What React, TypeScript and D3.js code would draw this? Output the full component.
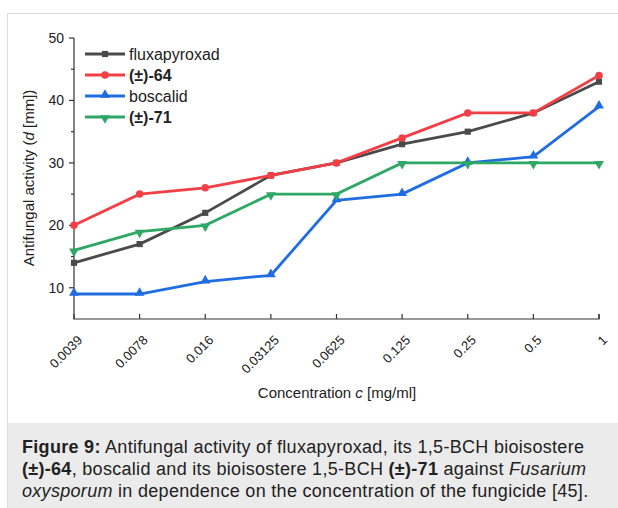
import * as d3 from "d3";

const concentrations = ["0.0039", "0.0078", "0.016", "0.03125", "0.0625", "0.125", "0.25", "0.5", "1"];
const fluxapyroxad = [14, 17, 22, 28, 30, 33, 35, 38, 43];
const cmp64 = [20, 25, 26, 28, 30, 34, 38, 38, 44];
const boscalid = [9, 9, 11, 12, 24, 25, 30, 31, 39];
const cmp71 = [16, 19, 20, 25, 25, 30, 30, 30, 30];
const yTicks = [10, 20, 30, 40, 50];
const yMinor = [15, 25, 35, 45];

const series = [
  { name: "fluxapyroxad", bold: false, values: fluxapyroxad, color: "#4a4a4a", symbol: d3.symbolSquare },
  { name: "(±)-64", bold: true, values: cmp64, color: "#f23f45", symbol: d3.symbolCircle },
  { name: "boscalid", bold: false, values: boscalid, color: "#1f6de0", symbol: d3.symbolTriangle },
  { name: "(±)-71", bold: true, values: cmp71, color: "#2fa865", symbol: "down" },
];

const W = 618;
const H = 508;
const left = 74;
const right = 599;
const top = 38;
const bottom = 319;

export default function App() {
  const x = d3.scalePoint().domain(concentrations).range([left, right]);
  const y = d3.scaleLinear().domain([5, 50]).range([bottom, top]);
  const line = d3.line<number>().x((_, i) => x(concentrations[i])!).y(d => y(d));
  const font = "Liberation Sans, Arial, Helvetica, sans-serif";

  const marker = (sym: any, cx: number, cy: number, color: string, key: string) => {
    if (sym === "down") {
      const p = d3.symbol().type(d3.symbolTriangle).size(42)();
      return <path key={key} d={p!} transform={`translate(${cx},${cy + 1}) rotate(180)`} fill={color} />;
    }
    const size = sym === d3.symbolTriangle ? 42 : sym === d3.symbolSquare ? 38 : 44;
    const dy = sym === d3.symbolTriangle ? -1 : 0;
    return <path key={key} d={d3.symbol().type(sym).size(size)()!} transform={`translate(${cx},${cy + dy})`} fill={color} />;
  };

  return (
    <svg width={W} height={H} style={{ position: "absolute", left: 0, top: 0, display: "block" }} fontFamily={font}>
      <rect x={0} y={0} width={W} height={H} fill="#fff" />
      <path d={`M7.5,${H}V13.5H${W}`} fill="none" stroke="#dcdcdc" />
      <rect x={8} y={423} width={W - 8} height={H - 423} fill="#ebebeb" />

      {/* axes */}
      <g stroke="#333" strokeWidth={1.2} fill="none">
        <path d={`M${left},${top}V${bottom}H${right}V${bottom - 5}`} />
        {yTicks.map(t => (
          <path key={t} d={`M${left - 5},${y(t)}H${left}`} />
        ))}
        {yMinor.map(t => (
          <path key={t} d={`M${left - 3},${y(t)}H${left}`} />
        ))}
        {concentrations.map(c => (
          <path key={c} d={`M${x(c)},${bottom}V${bottom - 5}`} />
        ))}
      </g>
      {yTicks.map(t => (
        <text key={t} x={left - 10} y={y(t)} dy="0.35em" textAnchor="end" fontSize={14} fill="#222">
          {t}
        </text>
      ))}
      {concentrations.map(c => (
        <text
          key={c}
          transform={`translate(${x(c)! + 9},${bottom + 22}) rotate(-45)`}
          textAnchor="end"
          fontSize={13}
          fill="#222"
        >
          {c}
        </text>
      ))}
      <text x={337} y={398} textAnchor="middle" fontSize={15} fill="#222">
        Concentration <tspan fontStyle="italic">c</tspan> [mg/ml]
      </text>
      <text transform="translate(34,178) rotate(-90)" textAnchor="middle" fontSize={15} fill="#222">
        Antifungal activity (<tspan fontStyle="italic">d</tspan> [mm])
      </text>

      {/* series */}
      {series.map(s => (
        <g key={s.name}>
          <path d={line(s.values)!} fill="none" stroke={s.color} strokeWidth={2.8} />
          {s.values.map((v, i) => marker(s.symbol, x(concentrations[i])!, y(v), s.color, s.name + i))}
        </g>
      ))}

      {/* legend */}
      {series.map((s, i) => {
        const ly = 54 + i * 21;
        return (
          <g key={s.name}>
            <path d={`M85,${ly}H125`} stroke={s.color} strokeWidth={2.8} />
            {marker(s.symbol, 105, ly, s.color, "lg" + i)}
            <text x={129} y={ly} dy="0.35em" fontSize={16} fontWeight={s.bold ? "bold" : "normal"} fill="#222">
              {s.name}
            </text>
          </g>
        );
      })}

      {/* caption */}
      <g fontSize={18} letterSpacing={0.3} fill="#222">
        <text x={22} y={453}>
          <tspan fontWeight="bold">Figure 9:</tspan> Antifungal activity of fluxapyroxad, its 1,5-BCH bioisostere
        </text>
        <text x={22} y={475}>
          <tspan fontWeight="bold">(±)-64</tspan>, boscalid and its bioisostere 1,5-BCH{" "}
          <tspan fontWeight="bold">(±)-71</tspan> against <tspan fontStyle="italic">Fusarium</tspan>
        </text>
        <text x={22} y={497}>
          <tspan fontStyle="italic">oxysporum</tspan> in dependence on the concentration of the fungicide [45].
        </text>
      </g>
    </svg>
  );
}
